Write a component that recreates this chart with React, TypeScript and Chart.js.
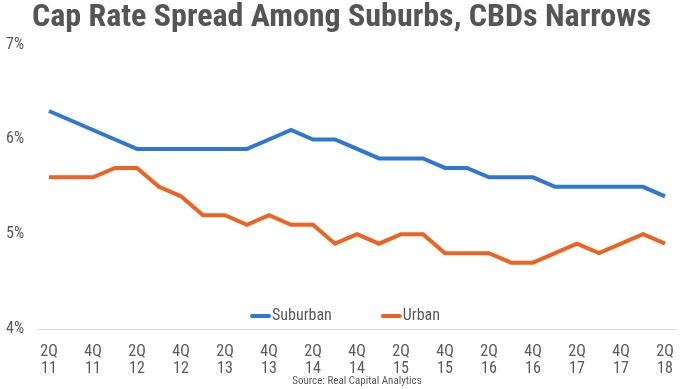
import React, { useEffect, useRef } from "react";
import { Chart, registerables } from "chart.js";

Chart.register(...registerables);

const quarters: string[][] = [
  ["2Q", "11"], ["3Q", "11"], ["4Q", "11"], ["1Q", "12"],
  ["2Q", "12"], ["3Q", "12"], ["4Q", "12"], ["1Q", "13"],
  ["2Q", "13"], ["3Q", "13"], ["4Q", "13"], ["1Q", "14"],
  ["2Q", "14"], ["3Q", "14"], ["4Q", "14"], ["1Q", "15"],
  ["2Q", "15"], ["3Q", "15"], ["4Q", "15"], ["1Q", "16"],
  ["2Q", "16"], ["3Q", "16"], ["4Q", "16"], ["1Q", "17"],
  ["2Q", "17"], ["3Q", "17"], ["4Q", "17"], ["1Q", "18"],
  ["2Q", "18"],
];

const suburban: number[] = [
  6.3, 6.2, 6.1, 6.0, 5.9, 5.9, 5.9, 5.9, 5.9, 5.9, 6.0, 6.1, 6.0, 6.0, 5.9,
  5.8, 5.8, 5.8, 5.7, 5.7, 5.6, 5.6, 5.6, 5.5, 5.5, 5.5, 5.5, 5.5, 5.4,
];

const urban: number[] = [
  5.6, 5.6, 5.6, 5.7, 5.7, 5.5, 5.4, 5.2, 5.2, 5.1, 5.2, 5.1, 5.1, 4.9, 5.0,
  4.9, 5.0, 5.0, 4.8, 4.8, 4.8, 4.7, 4.7, 4.8, 4.9, 4.8, 4.9, 5.0, 4.9,
];

const seriesNames = ["Suburban", "Urban"];
const titleText = "Cap Rate Spread Among Suburbs, CBDs Narrows";
const sourceText = "Source: Real Capital Analytics";

const BLUE = "#2F77D1";
const ORANGE = "#EE6222";
const TEXT = "#595959";
const FONT = "'Roboto Condensed', 'Liberation Sans Narrow', 'DejaVu Sans Condensed', Roboto, sans-serif";

const legendPlugin = {
  id: "innerLegend",
  afterDraw(chart: any) {
    const ctx = chart.ctx;
    const area = chart.chartArea;
    const ds = chart.data.datasets;
    ctx.save();
    ctx.font = `16px ${FONT}`;
    ctx.textBaseline = "middle";
    const lineW = 21;
    const gap = 49;
    const widths = ds.map((d: any) => lineW + 1 + ctx.measureText(d.label).width);
    const total = widths.reduce((a: number, b: number) => a + b, 0) + gap * (ds.length - 1);
    const centerX = 345;
    let x = centerX - total / 2;
    const y = area.bottom - 13;
    ds.forEach((d: any, i: number) => {
      ctx.strokeStyle = d.borderColor;
      ctx.lineWidth = 4;
      ctx.lineCap = "round";
      ctx.beginPath();
      ctx.moveTo(x + 2, y);
      ctx.lineTo(x + lineW - 2, y);
      ctx.stroke();
      ctx.fillStyle = TEXT;
      ctx.textAlign = "left";
      ctx.fillText(d.label, x + lineW + 1, y);
      x += widths[i] + gap;
    });
    ctx.restore();
  },
};

export default function App() {
  const ref = useRef<HTMLCanvasElement>(null);
  useEffect(() => {
    if (!ref.current) return;
    const chart = new Chart(ref.current, {
      type: "line",
      data: {
        labels: quarters,
        datasets: [
          {
            label: seriesNames[0],
            data: suburban,
            borderColor: BLUE,
            backgroundColor: BLUE,
            borderWidth: 4,
            pointRadius: 0,
            tension: 0,
          },
          {
            label: seriesNames[1],
            data: urban,
            borderColor: ORANGE,
            backgroundColor: ORANGE,
            borderWidth: 4,
            pointRadius: 0,
            tension: 0,
          },
        ],
      },
      options: {
        animation: false,
        responsive: true,
        maintainAspectRatio: false,
        layout: { padding: { left: 5, right: 2, top: 0, bottom: 1 } },
        plugins: {
          legend: { display: false },
          tooltip: { enabled: false },
          title: {
            display: true,
            text: titleText,
            color: "#555555",
            font: { family: FONT, size: 32, weight: "bold", lineHeight: 1.1 },
            padding: { top: 0.5, bottom: 9 },
          },
          subtitle: {
            display: true,
            position: "bottom",
            text: sourceText,
            fullSize: false,
            color: TEXT,
            font: { family: FONT, size: 11, lineHeight: 1.2 },
            padding: 0,
          },
        },
        scales: {
          x: {
            offset: true,
            grid: { display: false, drawTicks: false },
            border: { display: true, color: "#D9D9D9", width: 1 },
            afterFit: (s: any) => {
              s.height = 45.8;
              s.paddingLeft = 0;
              s.paddingRight = 4;
            },
            ticks: {
              autoSkip: false,
              maxRotation: 0,
              padding: 14,
              color: TEXT,
              font: { family: FONT, size: 16, lineHeight: 1.07 },
              callback: function (this: any, val: any, i: number) {
                return i % 2 === 0 ? this.getLabelForValue(val) : "";
              },
            },
          },
          y: {
            min: 4,
            max: 7,
            grid: { display: false, drawTicks: false },
            border: { display: false },
            afterFit: (s: any) => {
              s.width = 33;
            },
            ticks: {
              stepSize: 1,
              padding: 14,
              color: TEXT,
              font: { family: FONT, size: 16 },
              callback: (v: any) => `${v}%`,
            },
          },
        },
      },
      plugins: [legendPlugin],
    });
    return () => chart.destroy();
  }, []);
  return (
    <div style={{ position: "fixed", left: 0, top: 0, width: 680, height: 389, background: "#fff" }}>
      <canvas ref={ref} />
    </div>
  );
}
